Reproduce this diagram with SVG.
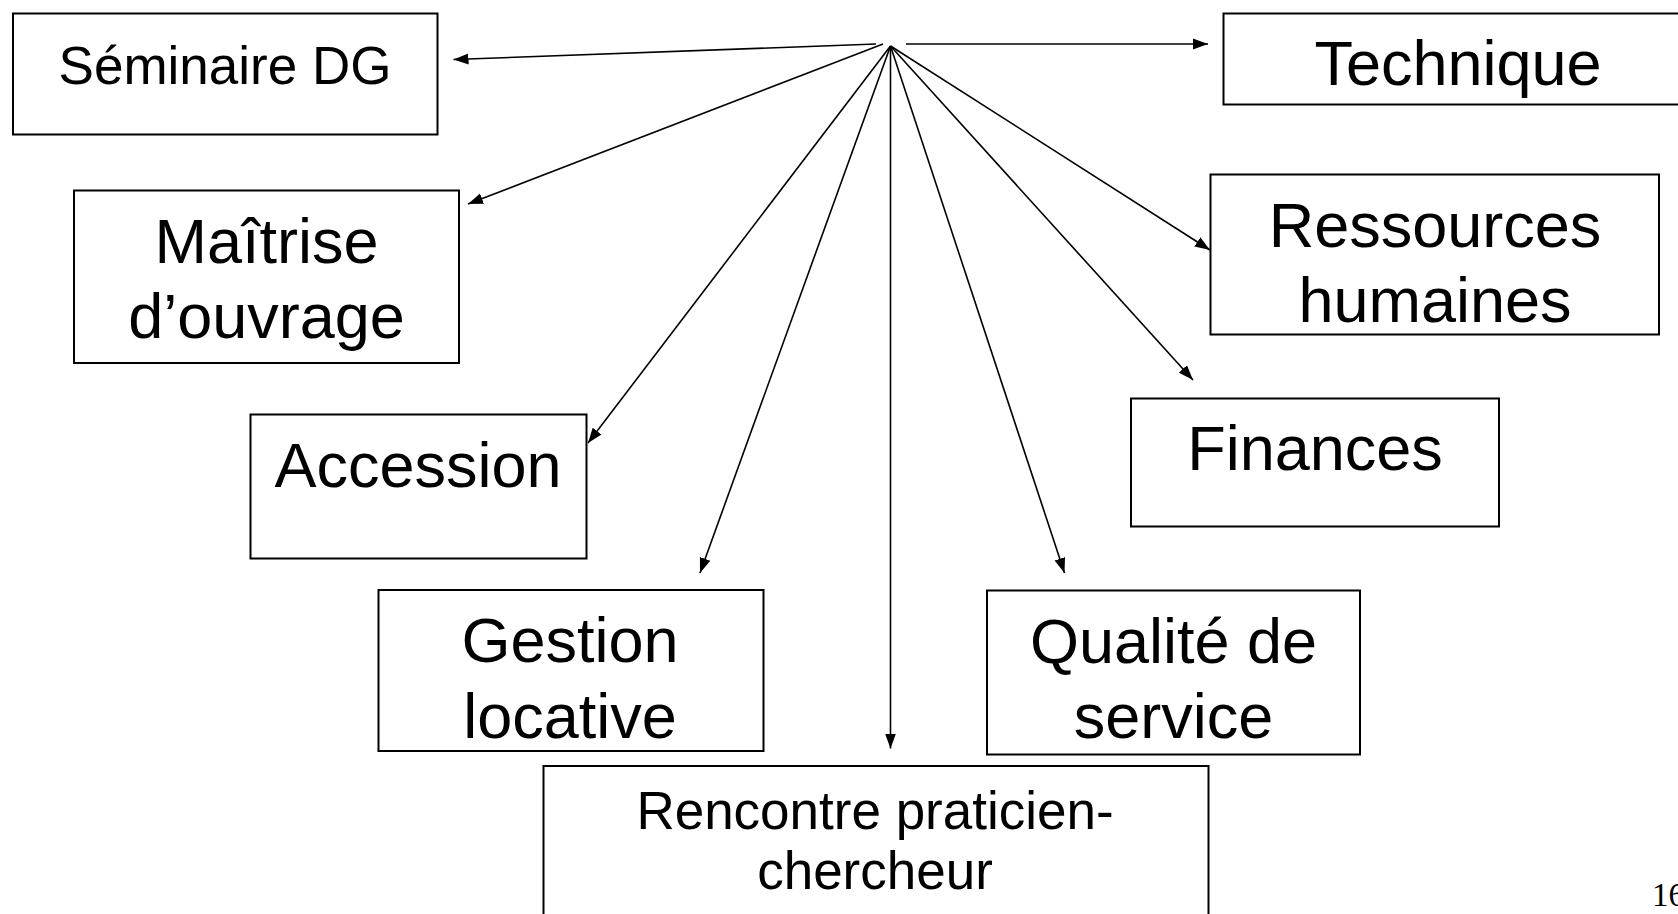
<svg xmlns="http://www.w3.org/2000/svg" width="1678" height="914" viewBox="0 0 1678 914">
<style>
.box{fill:#fff;stroke:#000;stroke-width:2}
.lbl{font-family:"Liberation Sans",Arial,sans-serif;fill:#000;text-anchor:middle}
.big{font-size:63px}
.mid{font-size:53px}
.con line{stroke:#000;stroke-width:1.6;fill:none}
</style>
<defs>
<marker id="ah" markerUnits="userSpaceOnUse" markerWidth="16" markerHeight="12" refX="15" refY="5.5" orient="auto" viewBox="0 0 16 11">
<path d="M0,0 L15,5.5 L0,11 z" fill="#000"/>
</marker>
</defs>
<rect width="1678" height="914" fill="#fff"/>
<g id="seminaire">
<rect class="box" x="13" y="13.5" width="424.5" height="121"/>
<text class="lbl mid" x="225" y="84">Séminaire DG</text>
</g>
<g id="technique">
<rect class="box" x="1223.5" y="13.5" width="470" height="91"/>
<text class="lbl big" x="1458" y="85">Technique</text>
</g>
<g id="maitrise">
<rect class="box" x="74" y="190.5" width="385" height="172.5"/>
<text class="lbl big" x="266.5" y="263">Maîtrise</text>
<text class="lbl big" x="266.5" y="338">d’ouvrage</text>
</g>
<g id="rh">
<rect class="box" x="1210.5" y="174.5" width="448.5" height="160"/>
<text class="lbl big" x="1435" y="247">Ressources</text>
<text class="lbl big" x="1435" y="322">humaines</text>
</g>
<g id="accession">
<rect class="box" x="250.5" y="414.5" width="336" height="144"/>
<text class="lbl big" x="418" y="487">Accession</text>
</g>
<g id="finances">
<rect class="box" x="1131" y="398.5" width="368" height="128"/>
<text class="lbl big" x="1315" y="470">Finances</text>
</g>
<g id="gestion">
<rect class="box" x="378.5" y="590" width="385" height="161"/>
<text class="lbl big" x="570" y="662">Gestion</text>
<text class="lbl big" x="570" y="738">locative</text>
</g>
<g id="qualite">
<rect class="box" x="987" y="590.5" width="373" height="164"/>
<text class="lbl big" x="1173.5" y="663">Qualité de</text>
<text class="lbl big" x="1173.5" y="738">service</text>
</g>
<g id="rencontre">
<rect class="box" x="543.5" y="766" width="665" height="200"/>
<text class="lbl mid" x="875" y="829">Rencontre praticien-</text>
<text class="lbl mid" x="875" y="889">chercheur</text>
</g>
<g id="connectors" class="con">
<line x1="876" y1="44" x2="453.5" y2="59.5" marker-end="url(#ah)"/>
<line x1="906" y1="44" x2="1208" y2="44" marker-end="url(#ah)"/>
<line x1="883" y1="44" x2="468" y2="204" marker-end="url(#ah)"/>
<line x1="890.5" y1="46" x2="1210" y2="250" marker-end="url(#ah)"/>
<line x1="890.5" y1="46" x2="1193" y2="380" marker-end="url(#ah)"/>
<line x1="890.5" y1="46" x2="588" y2="443" marker-end="url(#ah)"/>
<line x1="890.5" y1="46" x2="700" y2="573" marker-end="url(#ah)"/>
<line x1="890.5" y1="46" x2="890.5" y2="748.5" marker-end="url(#ah)"/>
<line x1="890.5" y1="46" x2="1064.5" y2="573" marker-end="url(#ah)"/>
</g>
<text x="1652" y="906" font-family="'Liberation Serif','Times New Roman',serif" font-size="33" fill="#000">16</text>
</svg>
